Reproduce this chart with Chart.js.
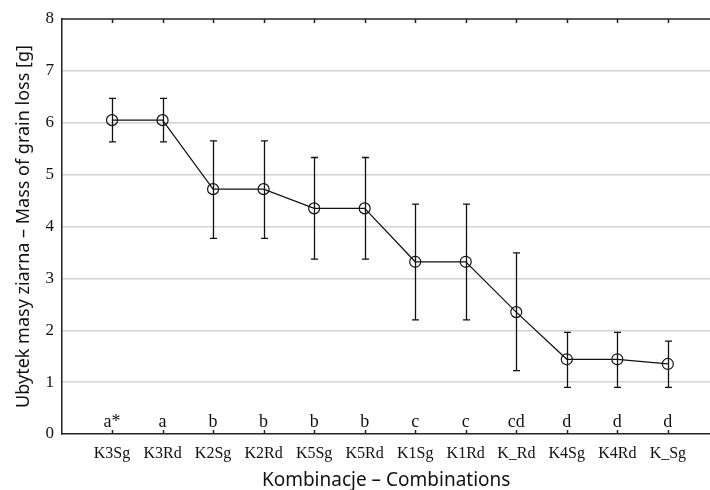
<!DOCTYPE html>
<html>
<head>
<meta charset="utf-8">
<script src="https://cdn.jsdelivr.net/npm/chart.js@4/dist/chart.umd.min.js"></script>
<style>
  html, body { margin: 0; padding: 0; background: #fff; overflow: hidden; }
  #wrap { width: 710px; height: 490px; position: relative; overflow: hidden; }
  canvas { display: block; }
</style>
</head>
<body>
<div id="wrap"><canvas id="c" width="717" height="490"></canvas></div>
<script>
const categories = ['K3Sg','K3Rd','K2Sg','K2Rd','K5Sg','K5Rd','K1Sg','K1Rd','K_Rd','K4Sg','K4Rd','K_Sg'];
const means = [6.05, 6.05, 4.72, 4.72, 4.35, 4.35, 3.32, 3.32, 2.35, 1.44, 1.44, 1.35];
const lowerBounds = [5.63, 5.63, 3.77, 3.77, 3.37, 3.37, 2.20, 2.20, 1.22, 0.90, 0.90, 0.90];
const upperBounds = [6.47, 6.47, 5.65, 5.65, 5.33, 5.33, 4.43, 4.43, 3.49, 1.96, 1.96, 1.79];
const groupLetters = ['a*','a','b','b','b','b','c','c','cd','d','d','d'];
const yTicks = [0,1,2,3,4,5,6,7,8];

const serif = '"Liberation Serif", "DejaVu Serif", serif';
const sans = '"Noto Sans", "Open Sans", sans-serif';

const extras = {
  id: 'extras',
  afterDatasetsDraw(chart) {
    const ctx = chart.ctx;
    const xs = chart.scales.x, ys = chart.scales.y;
    const area = chart.chartArea;
    ctx.save();
    // error bars
    ctx.strokeStyle = '#111';
    ctx.lineWidth = 1.3;
    for (let i = 0; i < categories.length; i++) {
      const px = Math.round(xs.getPixelForValue(i)) + 0.5;
      const yl = ys.getPixelForValue(lowerBounds[i]);
      const yu = ys.getPixelForValue(upperBounds[i]);
      ctx.beginPath();
      ctx.moveTo(px, yl); ctx.lineTo(px, yu);
      ctx.moveTo(px - 3.5, yl); ctx.lineTo(px + 3.5, yl);
      ctx.moveTo(px - 3.5, yu); ctx.lineTo(px + 3.5, yu);
      ctx.stroke();
    }
    // frame top line and inward ticks
    ctx.strokeStyle = '#222';
    ctx.lineWidth = 1.3;
    ctx.beginPath();
    ctx.moveTo(area.left, area.top); ctx.lineTo(area.right, area.top);
    ctx.stroke();
    ctx.lineWidth = 1.5;
    for (let i = 0; i < categories.length; i++) {
      const px = Math.round(xs.getPixelForValue(i)) + 0.5;
      ctx.beginPath();
      ctx.moveTo(px, area.top); ctx.lineTo(px, area.top + 4);
      ctx.moveTo(px, area.bottom); ctx.lineTo(px, area.bottom - 4);
      ctx.stroke();
    }
    // group letters
    ctx.fillStyle = '#111';
    ctx.font = '18px ' + serif;
    ctx.textAlign = 'center';
    ctx.textBaseline = 'alphabetic';
    for (let i = 0; i < categories.length; i++) {
      const px = xs.getPixelForValue(i);
      ctx.fillText(groupLetters[i], px, ys.getPixelForValue(0.13));
    }
    ctx.restore();
  }
};

new Chart(document.getElementById('c'), {
  type: 'line',
  data: {
    datasets: [{
      data: means.map((v, i) => ({ x: i, y: v })),
      borderColor: '#111',
      borderWidth: 1.2,
      pointRadius: 5.5,
      pointBorderWidth: 1.2,
      pointBorderColor: '#111',
      pointBackgroundColor: 'rgba(0,0,0,0)',
      fill: false,
      tension: 0
    }]
  },
  options: {
    responsive: false,
    animation: false,
    events: [],
    layout: { padding: { top: 19, right: 0, left: 0, bottom: 0 } },
    plugins: { legend: { display: false }, tooltip: { enabled: false } },
    scales: {
      x: {
        type: 'linear',
        min: -0.99,
        max: 11.84,
        afterBuildTicks: (s) => { s.ticks = categories.map((_, i) => ({ value: i })); },
        afterFit: (s) => { s.height = 56; s.paddingLeft = 0; s.paddingRight = 0; },
        grid: { display: false, drawTicks: false },
        border: { display: true, color: '#222', width: 1.5 },
        ticks: {
          autoSkip: false,
          maxRotation: 0,
          padding: 10,
          color: '#111',
          font: { family: serif, size: 16 },
          callback: (v) => categories[v] ?? ''
        },
        title: {
          display: true,
          text: 'Kombinacje – Combinations',
          color: '#111',
          font: { family: sans, size: 19 },
          padding: { top: 0, bottom: -2 }
        }
      },
      y: {
        min: 0,
        max: 8,
        afterBuildTicks: (s) => { s.ticks = yTicks.map(v => ({ value: v })); },
        afterFit: (s) => { s.width = 62; },
        grid: {
          drawTicks: false,
          color: (c) => (c.tick && (c.tick.value === 0 || c.tick.value === 8)) ? 'rgba(0,0,0,0)' : '#d2d2d2',
          lineWidth: 1.5
        },
        border: { display: true, color: '#222', width: 1.5 },
        ticks: {
          padding: 8,
          color: '#111',
          font: { family: serif, size: 17 }
        },
        title: {
          display: true,
          text: 'Ubytek masy ziarna – Mass of grain loss [g]',
          color: '#111',
          font: { family: sans, size: 18 },
          padding: { top: 13, bottom: 0 }
        }
      }
    }
  },
  plugins: [extras]
});
</script>
</body>
</html>
